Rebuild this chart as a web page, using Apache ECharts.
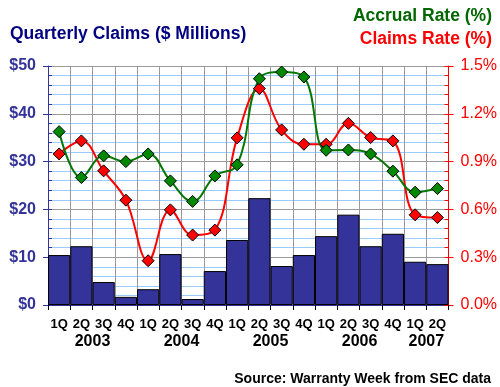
<!DOCTYPE html>
<html><head><meta charset="utf-8">
<script src="https://cdn.jsdelivr.net/npm/echarts@6/dist/echarts.min.js"></script>
<style>html,body{margin:0;padding:0;background:#fff}#c{width:500px;height:387px}</style>
</head><body><div id="c"></div>
<script>
const categories = ['1Q','2Q','3Q','4Q','1Q','2Q','3Q','4Q','1Q','2Q','3Q','4Q','1Q','2Q','3Q','4Q','1Q','2Q'];
const quarterYears = [2003,2003,2003,2003,2004,2004,2004,2004,2005,2005,2005,2005,2006,2006,2006,2006,2007,2007];
const claimsMillions = [10.45,12.3,4.8,1.7,3.3,10.65,1.25,7.1,13.6,22.35,8.15,10.45,14.4,18.9,12.3,14.9,9.05,8.55];
const accrualRate = [1.088,0.80,0.936,0.90,0.948,0.779,0.65,0.81,0.88,1.42,1.462,1.431,0.971,0.973,0.948,0.84,0.708,0.731];
const claimsRate = [0.948,1.03,0.842,0.658,0.278,0.597,0.439,0.47,1.049,1.358,1.099,1.009,1.009,1.14,1.051,1.03,0.566,0.549];
const leftTicks = [0,10,20,30,40,50];
const rightTicks = [0,0.3,0.6,0.9,1.2,1.5];

// year label positions: centre of each year's group of quarters
const yearNames = [];
const yearCenters = [];
quarterYears.forEach((y, i) => {
  let k = yearNames.indexOf(y);
  if (k < 0) { yearNames.push(y); yearCenters.push([i, i]); k = yearNames.length - 1; }
  yearCenters[k][1] = i;
});
const yearPos = yearCenters.map(r => (r[0] + r[1] + 1) / 2);

const FF = '"Liberation Sans", Arial, sans-serif';
const chart = echarts.init(document.getElementById('c'), null, {renderer: 'canvas'});
chart.setOption({
  backgroundColor: '#fff',
  animation: false,
  title: [
    {text: 'Quarterly Claims ($ Millions)', left: 5, top: 20, textStyle: {color: '#000080', fontSize: 17.5, fontWeight: 'bold', fontFamily: FF}},
    {text: 'Accrual Rate (%)', right: 3, top: 2, textStyle: {color: '#006600', fontSize: 17.5, fontWeight: 'bold', fontFamily: FF}},
    {text: 'Claims Rate (%)', right: 3, top: 25, textStyle: {color: '#ff0000', fontSize: 17.5, fontWeight: 'bold', fontFamily: FF}},
    {text: 'Source: Warranty Week from SEC data', right: 4, top: 367, textStyle: {color: '#000', fontSize: 14, fontWeight: 'bold', fontFamily: FF}}
  ],
  grid: {left: 48, right: 51, top: 66, bottom: 82, containLabel: false},
  xAxis: [
    {type: 'category', data: categories, boundaryGap: true,
     axisLine: {show: true, lineStyle: {color: '#333399', width: 1}},
     axisTick: {show: true, length: 5, interval: 0, lineStyle: {color: '#000'}},
     axisLabel: {interval: 0, margin: 13, color: '#000', fontSize: 13, fontWeight: 'bold', fontFamily: FF},
     splitLine: {show: true, interval: 0, lineStyle: {color: '#999999', width: 1}}},
    {type: 'value', min: 0, max: categories.length, position: 'bottom',
     axisLine: {show: false}, axisTick: {show: false}, splitLine: {show: false},
     axisLabel: {customValues: yearPos, margin: 29, color: '#000', fontSize: 16, fontWeight: 'bold', fontFamily: FF,
       formatter: v => { const k = yearPos.indexOf(v); return k >= 0 ? String(yearNames[k]) : ''; }}}
  ],
  yAxis: [
    {type: 'value', min: 0, max: 50, interval: 2, position: 'left',
     axisLine: {show: false}, axisLabel: {show: false},
     axisTick: {show: true, inside: true, length: 4, lineStyle: {color: '#333399'}},
     splitLine: {show: true, lineStyle: {color: '#99ccff', width: 1}}},
    {type: 'value', min: 0, max: 50, interval: 10, position: 'left',
     axisLine: {show: true, lineStyle: {color: '#333399', width: 1}},
     axisTick: {show: true, length: 5, lineStyle: {color: '#333399'}},
     axisLabel: {margin: 12, color: '#333399', fontSize: 16, fontWeight: 'bold', fontFamily: FF, formatter: v => '$' + v},
     splitLine: {show: true, lineStyle: {color: '#999999', width: 1}}},
    {type: 'value', min: 0, max: 1.5, interval: 0.06, position: 'right',
     axisLine: {show: false}, axisLabel: {show: false},
     axisTick: {show: true, inside: true, length: 4, lineStyle: {color: '#ff0000'}},
     splitLine: {show: false}},
    {type: 'value', min: 0, max: 1.5, interval: 0.3, position: 'right',
     axisLine: {show: true, lineStyle: {color: '#ff0000', width: 1}},
     axisTick: {show: true, length: 5, lineStyle: {color: '#ff0000'}},
     axisLabel: {margin: 12, color: '#ff0000', fontSize: 16, fontFamily: FF, formatter: v => v.toFixed(1) + '%'},
     splitLine: {show: false}}
  ],
  series: [
    {type: 'bar', name: 'Claims', xAxisIndex: 0, yAxisIndex: 1, data: claimsMillions,
     barCategoryGap: '0%', itemStyle: {color: '#333399', borderColor: '#000', borderWidth: 1}},
    {type: 'line', name: 'Claims Rate', xAxisIndex: 0, yAxisIndex: 3, data: claimsRate, smooth: 0.4,
     lineStyle: {color: '#ff0000', width: 2}, symbol: 'diamond', symbolSize: 12,
     itemStyle: {color: '#ff0000', borderColor: '#000', borderWidth: 1}},
    {type: 'line', name: 'Accrual Rate', xAxisIndex: 0, yAxisIndex: 3, data: accrualRate, smooth: 0.4,
     lineStyle: {color: '#007700', width: 2}, symbol: 'diamond', symbolSize: 12,
     itemStyle: {color: '#008800', borderColor: '#000', borderWidth: 1}}
  ]
});
</script></body></html>
